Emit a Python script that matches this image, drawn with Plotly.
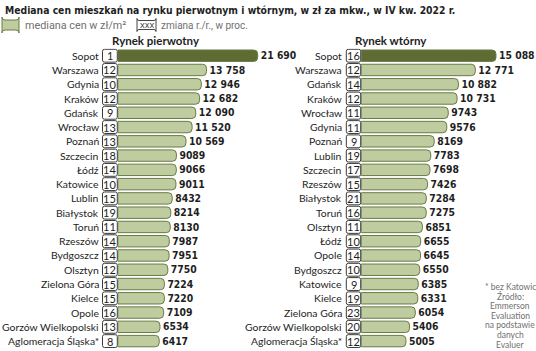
import plotly.graph_objects as go

W, H = 536, 351

title = "Mediana cen mieszkań na rynku pierwotnym i wtórnym, w zł za mkw., w IV kw. 2022 r."
legend_value = "mediana cen w zł/m²"
legend_change = "zmiana r./r., w proc."
panel_titles = ["Rynek pierwotny", "Rynek wtórny"]
footnote = ["* bez Katowic", "Źródło:", "Emmerson", "Evaluation", "na podstawie", "danych", "Evaluer"]

primary_cities = ["Sopot", "Warszawa", "Gdynia", "Kraków", "Gdańsk", "Wrocław", "Poznań",
                  "Szczecin", "Łódź", "Katowice", "Lublin", "Białystok", "Toruń", "Rzeszów",
                  "Bydgoszcz", "Olsztyn", "Zielona Góra", "Kielce", "Opole",
                  "Gorzów Wielkopolski", "Aglomeracja Śląska*"]
primary_values = [21690, 13758, 12946, 12682, 12090, 11520, 10569, 9089, 9066, 9011, 8432,
                  8214, 8130, 7987, 7951, 7750, 7224, 7220, 7109, 6534, 6417]
primary_change = [1, 12, 10, 12, 9, 13, 13, 18, 14, 10, 15, 19, 11, 14, 14, 12, 15, 15, 16, 13, 8]

secondary_cities = ["Sopot", "Warszawa", "Gdańsk", "Kraków", "Wrocław", "Gdynia", "Poznań",
                    "Lublin", "Szczecin", "Rzeszów", "Białystok", "Toruń", "Olsztyn", "Łódź",
                    "Opole", "Bydgoszcz", "Katowice", "Kielce", "Zielona Góra",
                    "Gorzów Wielkopolski", "Aglomeracja Śląska*"]
secondary_values = [15088, 12771, 10882, 10731, 9743, 9576, 8169, 7783, 7698, 7426, 7284,
                    7275, 6851, 6655, 6645, 6550, 6385, 6331, 6054, 5406, 5005]
secondary_change = [16, 12, 14, 12, 11, 11, 9, 19, 17, 15, 21, 16, 11, 10, 14, 10, 9, 19, 23, 20, 12]

DARK = "#5e6c34"
LIGHT = "#bfcc9f"
EDGE = "#6a7a45"
TXT = "#1e1e1e"
GREY = "#707070"
COND = "Liberation Sans Narrow, DejaVu Sans Condensed, Arial Narrow, sans-serif"
SANS = "Lato, Roboto, Liberation Sans, sans-serif"
ROBO = "Roboto, Liberation Sans, sans-serif"


def px(x):
    return x / W


def py(y):
    return 1 - y / H


def fmt(v):
    return f"{v:,}".replace(",", " ") if v >= 10000 else str(v)


n = len(primary_cities)
row0, pitch = 55.7, 14.27
top_px = row0 - pitch / 2
bot_px = top_px + n * pitch

fig = go.Figure()

panels = [
    dict(cities=primary_cities, vals=primary_values, chg=primary_change,
         xa="x", ya="y", label_r=100.5, box=(102.5, 117.3), bar0=117.8, bar_end=257.7,
         dom_end=267.5, title_x=156),
    dict(cities=secondary_cities, vals=secondary_values, chg=secondary_change,
         xa="x2", ya="y2", label_r=343.5, box=(346.3, 360.7), bar0=361.2, bar_end=496.0,
         dom_end=536, title_x=391),
]

shapes = []
annotations = []


def rrect(x0, x1, y0, y1, rx, ry):
    return (f"M{x0+rx},{y0} L{x1-rx},{y0} Q{x1},{y0} {x1},{y0+ry} L{x1},{y1-ry} "
            f"Q{x1},{y1} {x1-rx},{y1} L{x0+rx},{y1} Q{x0},{y1} {x0},{y1-ry} "
            f"L{x0},{y0+ry} Q{x0},{y0} {x0+rx},{y0} Z")


for k, p in enumerate(panels):
    vals = p["vals"]
    colors = [DARK if i == 0 else LIGHT for i in range(n)]
    fig.add_trace(go.Bar(
        y=list(range(n)), x=vals, orientation="h",
        xaxis=p["xa"], yaxis=p["ya"],
        marker=dict(color=colors, line=dict(color=EDGE, width=1), cornerradius=4),
        width=0.8,
        text=[fmt(v) for v in vals], textposition="outside", cliponaxis=False,
        textfont=dict(family=COND, size=14.5, color=TXT, weight="bold"),
        hoverinfo="skip", showlegend=False,
    ))
    scale = (p["bar_end"] - p["bar0"]) / vals[0]
    rng_max = (p["dom_end"] - p["bar0"]) / scale
    axname = "xaxis" if k == 0 else "xaxis2"
    yname = "yaxis" if k == 0 else "yaxis2"
    fig.update_layout(**{
        axname: dict(domain=[px(p["bar0"]), px(p["dom_end"])], range=[0, rng_max],
                     visible=False, anchor=p["ya"]),
        yname: dict(domain=[py(bot_px), py(top_px)], range=[n - 0.5, -0.5],
                    visible=False, anchor=p["xa"]),
    })
    bx0, bx1 = p["box"]
    for i in range(n):
        annotations.append(dict(
            x=px(p["label_r"]), y=i, xref="paper", yref=p["ya"], text=p["cities"][i],
            xanchor="right", yanchor="middle", showarrow=False,
            font=dict(family=SANS, size=10.4, color=TXT)))
        shapes.append(dict(
            type="path", xref="paper", yref=p["ya"],
            path=rrect(px(bx0), px(bx1), i - 0.45, i + 0.45, px(2), 0.14),
            line=dict(color="#3a3a3a", width=1), fillcolor="white", layer="above"))
        annotations.append(dict(
            x=px((bx0 + bx1) / 2), y=i, xref="paper", yref=p["ya"], text=str(p["chg"][i]),
            xanchor="center", yanchor="middle", showarrow=False,
            font=dict(family=SANS, size=11, color=TXT)))
    annotations.append(dict(
        x=px(p["title_x"]), y=py(41), xref="paper", yref="paper", text=panel_titles[k],
        xanchor="center", yanchor="middle", showarrow=False,
        font=dict(family=SANS, size=11.5, color=TXT, weight="bold")))

# title
annotations.append(dict(
    x=px(3), y=py(10), xref="paper", yref="paper", text=title,
    xanchor="left", yanchor="middle", showarrow=False,
    font=dict(family=COND, size=10.3, color=TXT, weight="bold")))

# legend
shapes.append(dict(type="path", xref="paper", yref="paper",
                   path=rrect(px(2), px(19), py(20), py(30), px(3), 3 / H),
                   line=dict(color=EDGE, width=1), fillcolor=LIGHT))
annotations.append(dict(x=px(23), y=py(25.5), xref="paper", yref="paper", text=legend_value,
                        xanchor="left", yanchor="middle", showarrow=False,
                        font=dict(family=ROBO, size=10.8, color=GREY)))
shapes.append(dict(type="path", xref="paper", yref="paper",
                   path=rrect(px(137), px(156), py(20.5), py(29.5), px(2), 2 / H),
                   line=dict(color="#444", width=1), fillcolor="white"))
annotations.append(dict(x=px(146.5), y=py(25), xref="paper", yref="paper", text="XXX",
                        xanchor="center", yanchor="middle", showarrow=False,
                        font=dict(family=ROBO, size=7.5, color="#333")))
annotations.append(dict(x=px(159), y=py(25.5), xref="paper", yref="paper", text=legend_change,
                        xanchor="left", yanchor="middle", showarrow=False,
                        font=dict(family=ROBO, size=10, color=GREY)))

# footnote
for j, line in enumerate(footnote):
    annotations.append(dict(x=px(510), y=py(287 + j * 9.6), xref="paper", yref="paper",
                            text=line, xanchor="center", yanchor="middle", showarrow=False,
                            font=dict(family=SANS, size=8.5, color=GREY)))

fig.update_layout(
    width=W, height=H, margin=dict(l=0, r=0, t=0, b=0),
    paper_bgcolor="white", plot_bgcolor="white",
    shapes=shapes, annotations=annotations, bargap=0.2,
)

fig.write_html("out.html")
